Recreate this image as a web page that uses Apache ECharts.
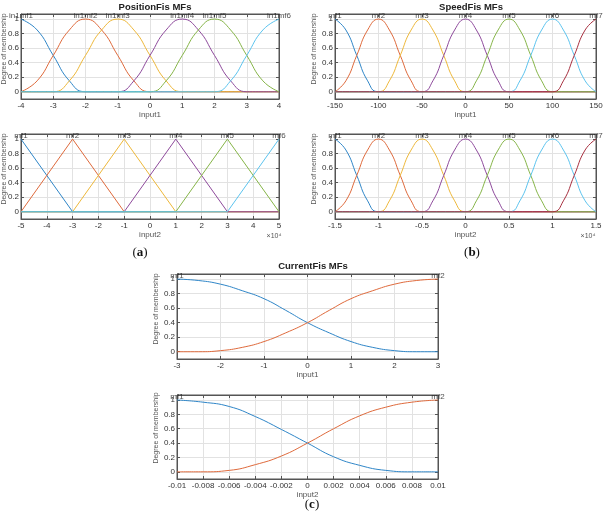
<!DOCTYPE html>
<html>
<head>
<meta charset="utf-8">
<title>Fuzzy MFs</title>
<script src="https://cdn.jsdelivr.net/npm/echarts@6/dist/echarts.min.js"></script>
<style>
  html, body { margin: 0; padding: 0; background: #fff; }
  #chart { width: 606px; height: 517px; }
</style>
</head>
<body>
<div id="chart"></div>
<script>
// PositionFis input1 (bell shaped mfs)
var posIn1Names = ['in1mf1', 'in1mf2', 'in1mf3', 'in1mf4', 'in1mf5', 'in1mf6'];
var posIn1Peaks = [-4, -2, -1, 1, 2, 4];
var posIn1 = [
  [[-4,1],[-3.5,0.85],[-3,0.5],[-2.5,0.15],[-2,0],[4,0]],
  [[-4,0],[-3.5,0.15],[-3,0.5],[-2.5,0.85],[-2,1],[-1.5,0.85],[-1,0.5],[-0.5,0.15],[0,0],[4,0]],
  [[-4,0],[-3,0],[-2.5,0.15],[-2,0.5],[-1.5,0.85],[-1,1],[-0.5,0.85],[0,0.5],[0.5,0.15],[1,0],[4,0]],
  [[-4,0],[-1,0],[-0.5,0.15],[0,0.5],[0.5,0.85],[1,1],[1.5,0.85],[2,0.5],[2.5,0.15],[3,0],[4,0]],
  [[-4,0],[0,0],[0.5,0.15],[1,0.5],[1.5,0.85],[2,1],[2.5,0.85],[3,0.5],[3.5,0.15],[4,0]],
  [[-4,0],[2,0],[2.5,0.15],[3,0.5],[3.5,0.85],[4,1]]
];

// PositionFis input2 (triangular mfs)
var posIn2Names = ['mf1', 'mf2', 'mf3', 'mf4', 'mf5', 'mf6'];
var posIn2Peaks = [-5, -3, -1, 1, 3, 5];
var posIn2 = [
  [[-5,1],[-3,0],[5,0]],
  [[-5,0],[-3,1],[-1,0],[5,0]],
  [[-5,0],[-3,0],[-1,1],[1,0],[5,0]],
  [[-5,0],[-1,0],[1,1],[3,0],[5,0]],
  [[-5,0],[1,0],[3,1],[5,0]],
  [[-5,0],[3,0],[5,1]]
];

// SpeedFis input1
var spdIn1Names = ['mf1', 'mf2', 'mf3', 'mf4', 'mf5', 'mf6', 'mf7'];
var spdIn1Peaks = [-150, -100, -50, 0, 50, 100, 150];
var spdIn1 = [
  [[-150,1],[-137.5,0.85],[-125,0.5],[-112.5,0.15],[-100,0],[150,0]],
  [[-150,0],[-137.5,0.15],[-125,0.5],[-112.5,0.85],[-100,1],[-87.5,0.85],[-75,0.5],[-62.5,0.15],[-50,0],[150,0]],
  [[-150,0],[-100,0],[-87.5,0.15],[-75,0.5],[-62.5,0.85],[-50,1],[-37.5,0.85],[-25,0.5],[-12.5,0.15],[0,0],[150,0]],
  [[-150,0],[-50,0],[-37.5,0.15],[-25,0.5],[-12.5,0.85],[0,1],[12.5,0.85],[25,0.5],[37.5,0.15],[50,0],[150,0]],
  [[-150,0],[0,0],[12.5,0.15],[25,0.5],[37.5,0.85],[50,1],[62.5,0.85],[75,0.5],[87.5,0.15],[100,0],[150,0]],
  [[-150,0],[50,0],[62.5,0.15],[75,0.5],[87.5,0.85],[100,1],[112.5,0.85],[125,0.5],[137.5,0.15],[150,0]],
  [[-150,0],[100,0],[112.5,0.15],[125,0.5],[137.5,0.85],[150,1]]
];

// SpeedFis input2 (x10^4)
var spdIn2Names = ['mf1', 'mf2', 'mf3', 'mf4', 'mf5', 'mf6', 'mf7'];
var spdIn2Peaks = [-1.5, -1, -0.5, 0, 0.5, 1, 1.5];
var spdIn2 = [
  [[-1.5,1],[-1.375,0.85],[-1.25,0.5],[-1.125,0.15],[-1,0],[1.5,0]],
  [[-1.5,0],[-1.375,0.15],[-1.25,0.5],[-1.125,0.85],[-1,1],[-0.875,0.85],[-0.75,0.5],[-0.625,0.15],[-0.5,0],[1.5,0]],
  [[-1.5,0],[-1,0],[-0.875,0.15],[-0.75,0.5],[-0.625,0.85],[-0.5,1],[-0.375,0.85],[-0.25,0.5],[-0.125,0.15],[0,0],[1.5,0]],
  [[-1.5,0],[-0.5,0],[-0.375,0.15],[-0.25,0.5],[-0.125,0.85],[0,1],[0.125,0.85],[0.25,0.5],[0.375,0.15],[0.5,0],[1.5,0]],
  [[-1.5,0],[0,0],[0.125,0.15],[0.25,0.5],[0.375,0.85],[0.5,1],[0.625,0.85],[0.75,0.5],[0.875,0.15],[1,0],[1.5,0]],
  [[-1.5,0],[0.5,0],[0.625,0.15],[0.75,0.5],[0.875,0.85],[1,1],[1.125,0.85],[1.25,0.5],[1.375,0.15],[1.5,0]],
  [[-1.5,0],[1,0],[1.125,0.15],[1.25,0.5],[1.375,0.85],[1.5,1]]
];

// CurrentFis input1
var curIn1Names = ['mf1', 'mf2'];
var curIn1Peaks = [-3, 3];
var curIn1 = [
  [[-3,1],[-2.5,0.98],[-2,0.93],[-1.5,0.84],[-1,0.73],[-0.5,0.57],[0,0.4],[0.5,0.26],[1,0.14],[1.5,0.06],[2,0.015],[2.5,0],[3,0]],
  [[-3,0],[-2.5,0],[-2,0.015],[-1.5,0.06],[-1,0.14],[-0.5,0.26],[0,0.4],[0.5,0.57],[1,0.73],[1.5,0.84],[2,0.93],[2.5,0.98],[3,1]]
];

// CurrentFis input2
var curIn2Names = ['mf1', 'mf2'];
var curIn2Peaks = [-0.01, 0.01];
var curIn2 = [
  [[-0.01,1],[-0.008,0.97],[-0.006,0.91],[-0.004,0.77],[-0.002,0.59],[0,0.4],[0.002,0.21],[0.004,0.09],[0.006,0.02],[0.008,0],[0.01,0]],
  [[-0.01,0],[-0.008,0],[-0.006,0.02],[-0.004,0.1],[-0.002,0.22],[0,0.4],[0.002,0.6],[0.004,0.78],[0.006,0.9],[0.008,0.97],[0.01,1]]
];

var yTicks = [0, 0.2, 0.4, 0.6, 0.8, 1];

var colors = ['#2f86c8', '#df6a3c', '#eeb83a', '#8e4a9c', '#86b548', '#5cc4ef', '#a83040'];
var font = '"Liberation Sans", Arial, sans-serif';
var axisColor = '#555';
var gridColor = '#e2e2e2';
var labelY = 1.045;

var panels = [
  { box: { left: 21, top: 14, width: 258, height: 85 }, min: -4, max: 4, step: 1, xname: 'input1',
    curves: posIn1, peaks: posIn1Peaks, names: posIn1Names, smooth: true },
  { box: { left: 21, top: 134, width: 258, height: 85 }, min: -5, max: 5, step: 1, xname: 'input2',
    curves: posIn2, peaks: posIn2Peaks, names: posIn2Names, smooth: false },
  { box: { left: 335, top: 14, width: 261, height: 85 }, min: -150, max: 150, step: 50, xname: 'input1',
    curves: spdIn1, peaks: spdIn1Peaks, names: spdIn1Names, smooth: true },
  { box: { left: 335, top: 134, width: 261, height: 85 }, min: -1.5, max: 1.5, step: 0.5, xname: 'input2',
    curves: spdIn2, peaks: spdIn2Peaks, names: spdIn2Names, smooth: true },
  { box: { left: 177, top: 274, width: 261, height: 85 }, min: -3, max: 3, step: 1, xname: 'input1',
    curves: curIn1, peaks: curIn1Peaks, names: curIn1Names, smooth: true },
  { box: { left: 177, top: 395, width: 261, height: 84 }, min: -0.01, max: 0.01, step: 0.002, xname: 'input2',
    curves: curIn2, peaks: curIn2Peaks, names: curIn2Names, smooth: true }
];

var grids = [], xAxes = [], yAxes = [], topAxes = [], rightAxes = [], series = [];

panels.forEach(function (p, i) {
  grids.push(Object.assign({ show: true, borderColor: axisColor, borderWidth: 1 }, p.box));

  xAxes.push({
    type: 'value', gridIndex: i, min: p.min, max: p.max, interval: p.step, position: 'bottom',
    name: p.xname, nameLocation: 'middle', nameGap: 10,
    nameTextStyle: { fontSize: 8, color: '#555', fontFamily: font },
    axisLine: { show: true, onZero: false, lineStyle: { color: axisColor } },
    axisTick: { show: true, inside: true, length: 3, lineStyle: { color: axisColor } },
    axisLabel: { fontSize: 8, color: '#333', margin: 3, fontFamily: font },
    splitLine: { show: true, lineStyle: { color: gridColor, width: 1 } }
  });
  topAxes.push({
    type: 'value', gridIndex: i, min: p.min, max: p.max, interval: p.step, position: 'top',
    axisLine: { show: true, onZero: false, lineStyle: { color: axisColor } },
    axisTick: { show: true, inside: true, length: 3, lineStyle: { color: axisColor } },
    axisLabel: { show: false }, splitLine: { show: false }
  });
  yAxes.push({
    type: 'value', gridIndex: i, min: -0.1, max: 1.07, position: 'left',
    axisLine: { show: true, onZero: false, lineStyle: { color: axisColor } },
    axisTick: { show: true, inside: true, length: 3, customValues: yTicks, lineStyle: { color: axisColor } },
    axisLabel: { fontSize: 8, color: '#333', margin: 2, customValues: yTicks, fontFamily: font },
    splitLine: { show: true, lineStyle: { color: gridColor, width: 1 } }
  });
  rightAxes.push({
    type: 'value', gridIndex: i, min: -0.1, max: 1.07, position: 'right',
    axisLine: { show: true, onZero: false, lineStyle: { color: axisColor } },
    axisTick: { show: true, inside: true, length: 3, customValues: yTicks, lineStyle: { color: axisColor } },
    axisLabel: { show: false }, splitLine: { show: false }
  });

  p.curves.forEach(function (c, k) {
    series.push({
      type: 'line', xAxisIndex: i, yAxisIndex: i, data: c,
      showSymbol: false, smooth: p.smooth ? 0.5 : false,
      lineStyle: { width: 1, color: colors[k] }, silent: true
    });
  });

  series.push({
    type: 'scatter', xAxisIndex: i, yAxisIndex: i, silent: true, z: 5,
    data: p.peaks.map(function (x, k) { return [x, labelY, p.names[k]]; }),
    symbolSize: 1, itemStyle: { color: 'rgba(0,0,0,0)' },
    label: {
      show: true, position: 'inside', fontSize: 8, color: '#222', fontFamily: font,
      formatter: function (q) { return q.data[2]; }
    }
  });
});

function txt(x, y, text, size, extra) {
  return {
    type: 'text', x: x, y: y, silent: true,
    style: Object.assign({
      text: text, fontSize: size, fill: '#222', fontFamily: font,
      align: 'center', verticalAlign: 'middle'
    }, extra || {})
  };
}

function yName(x, y) {
  var t = txt(x, y, 'Degree of membership', 7, { fill: '#555' });
  t.rotation = Math.PI / 2;
  return t;
}

function panelTag(x, y, letter) {
  return {
    type: 'text', x: x, y: y, silent: true,
    style: {
      text: '(' + '{b|' + letter + '})', fontSize: 13, fill: '#111',
      fontFamily: '"Liberation Serif", "DejaVu Serif", serif',
      align: 'center', verticalAlign: 'middle',
      rich: { b: { fontSize: 13, fontWeight: 'bold', fontFamily: '"Liberation Serif", serif', fill: '#111' } }
    }
  };
}

var graphics = [
  txt(155, 7, 'PositionFis MFs', 9.5, { fontWeight: 'bold' }),
  txt(471, 7, 'SpeedFis MFs', 9.5, { fontWeight: 'bold' }),
  txt(313, 266, 'CurrentFis MFs', 9.5, { fontWeight: 'bold' }),
  yName(4, 49), yName(4, 169),
  yName(314, 49), yName(314, 169),
  yName(156, 309), yName(156, 428),
  txt(274, 236, '\u00d710\u2074', 7, { fill: '#555' }),
  txt(588, 236, '\u00d710\u2074', 7, { fill: '#555' }),
  panelTag(140, 253, 'a'),
  panelTag(472, 253, 'b'),
  panelTag(312, 505, 'c')
];

var chart = echarts.init(document.getElementById('chart'));
chart.setOption({
  animation: false,
  backgroundColor: '#fff',
  grid: grids,
  xAxis: xAxes.concat(topAxes),
  yAxis: yAxes.concat(rightAxes),
  series: series,
  graphic: graphics
});
</script>
</body>
</html>
